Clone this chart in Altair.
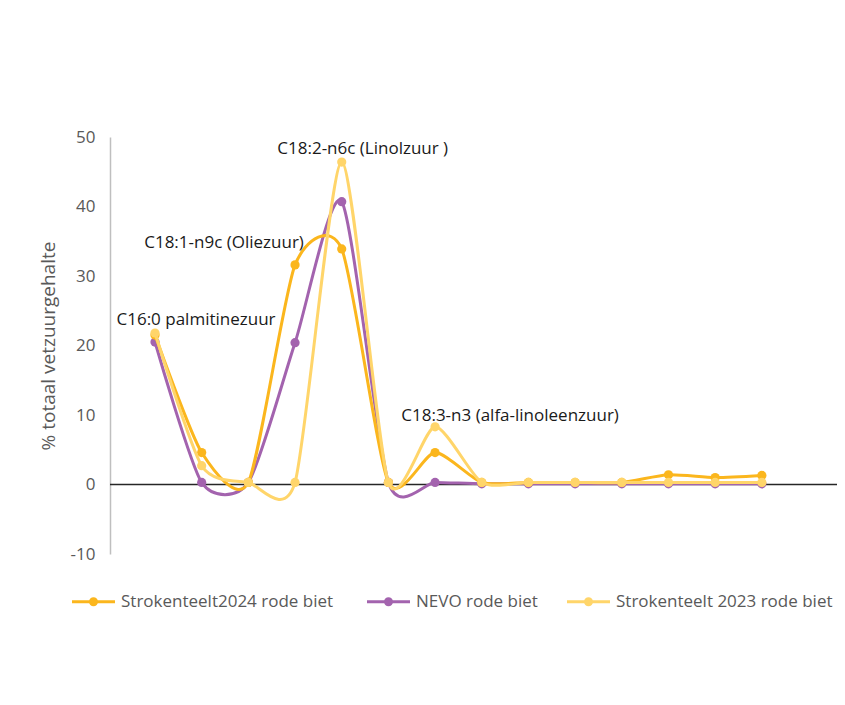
import altair as alt
import pandas as pd

# --- data ---
categories = list(range(14))
series_names = ["Strokenteelt2024  rode biet", "NEVO rode biet", "Strokenteelt 2023  rode biet"]
s2024 = [21.5, 4.6, 0.3, 31.6, 33.9, 0.3, 4.6, 0.3, 0.3, 0.3, 0.3, 1.4, 1.0, 1.3]
nevo = [20.5, 0.3, 0.3, 20.4, 40.7, 0.3, 0.3, 0.1, 0.1, 0.1, 0.1, 0.1, 0.1, 0.1]
s2023 = [21.8, 2.7, 0.3, 0.3, 46.4, 0.3, 8.3, 0.3, 0.3, 0.3, 0.3, 0.3, 0.3, 0.3]
label_texts = ["C16:0 palmitinezuur", "C18:1-n9c (Oliezuur)", "C18:2-n6c (Linolzuur )", "C18:3-n3 (alfa-linoleenzuur)"]
label_index = [0, 3, 4, 6]
y_ticks = [-10, 0, 10, 20, 30, 40, 50]

colors = ["#FBB61D", "#A363AE", "#FFD56A"]

rows = []
for name, vals in zip(series_names, [s2024, nevo, s2023]):
    for c, v in zip(categories, vals):
        rows.append({"idx": c, "value": v, "series": name})
df = pd.DataFrame(rows)

lab_rows = []
for t, i in zip(label_texts, label_index):
    lab_rows.append({"label": t, "idx": i, "value": max(s2024[i], nevo[i], s2023[i])})
labels_df = pd.DataFrame(lab_rows)

FONT = "Open Sans"

xscale = alt.Scale(domain=[-0.964, 14.61], nice=False, zero=False)
yscale = alt.Scale(domain=[-10, 50], nice=False)

color = alt.Color(
    "series:N",
    scale=alt.Scale(domain=series_names, range=colors),
    sort=series_names,
    legend=alt.Legend(
        title=None,
        orient="none",
        legendX=-40,
        legendY=441,
        direction="horizontal",
        symbolType="M-1,0L1,0M-0.14,0a0.14,0.14 0 1,0 0.28,0a0.14,0.14 0 1,0 -0.28,0",
        symbolSize=1850,
        symbolStrokeWidth=3,
        labelFont=FONT,
        labelFontSize=17,
        labelColor="#595959",
        labelOffset=4,
        columnPadding=22,
        labelLimit=400,
    ),
)

base = alt.Chart(df)

x_enc = alt.X("idx:Q", scale=xscale, axis=None)
y_enc = alt.Y(
    "value:Q",
    scale=yscale,
    axis=alt.Axis(
        values=y_ticks,
        labelExpr="toString(datum.value)",
        title="% totaal vetzuurgehalte",
        titleFont=FONT,
        titleFontSize=19,
        titleFontWeight="normal",
        titleColor="#595959",
        titlePadding=12,
        labelFont=FONT,
        labelFontSize=17,
        labelColor="#595959",
        labelPadding=15,
        ticks=False,
        grid=False,
        domainColor="#BFBFBF",
        domainWidth=1.5,
    ),
)

zero_rule = alt.Chart(pd.DataFrame({"z": [0]})).mark_rule(color="#262626", strokeWidth=1.5).encode(y=alt.Y("z:Q", scale=yscale))

layers = [zero_rule]
# draw order: NEVO bottom, 2024, 2023 top
for name in [series_names[1], series_names[0], series_names[2]]:
    sub = base.transform_filter(alt.datum.series == name)
    layers.append(
        sub.mark_line(interpolate="cardinal", tension=0.3, strokeWidth=3).encode(x=x_enc, y=y_enc, color=color)
    )
    layers.append(
        sub.mark_point(filled=True, size=85, opacity=1).encode(x=x_enc, y=y_enc, color=color)
    )

offsets = [(41, -13), (-71, -22), (21, -13), (75, -11)]
for (dx, dy), t in zip(offsets, label_texts):
    layers.append(
        alt.Chart(labels_df)
        .transform_filter(alt.datum.label == t)
        .mark_text(font=FONT, fontSize=17, color="#1a1a1a", dx=dx, dy=dy, align="center", baseline="middle")
        .encode(x=alt.X("idx:Q", scale=xscale), y=alt.Y("value:Q", scale=yscale), text="label:N")
    )

chart = (
    alt.layer(*layers)
    .properties(
        width=727,
        height=417,
        autosize=alt.AutoSizeParams(type="none"),
        padding={"left": 102, "top": 129, "right": 0, "bottom": 140},
        background="white",
    )
    .configure_view(stroke=None)
)

chart.save("out.html", embed_options={"renderer": "svg", "actions": False})
